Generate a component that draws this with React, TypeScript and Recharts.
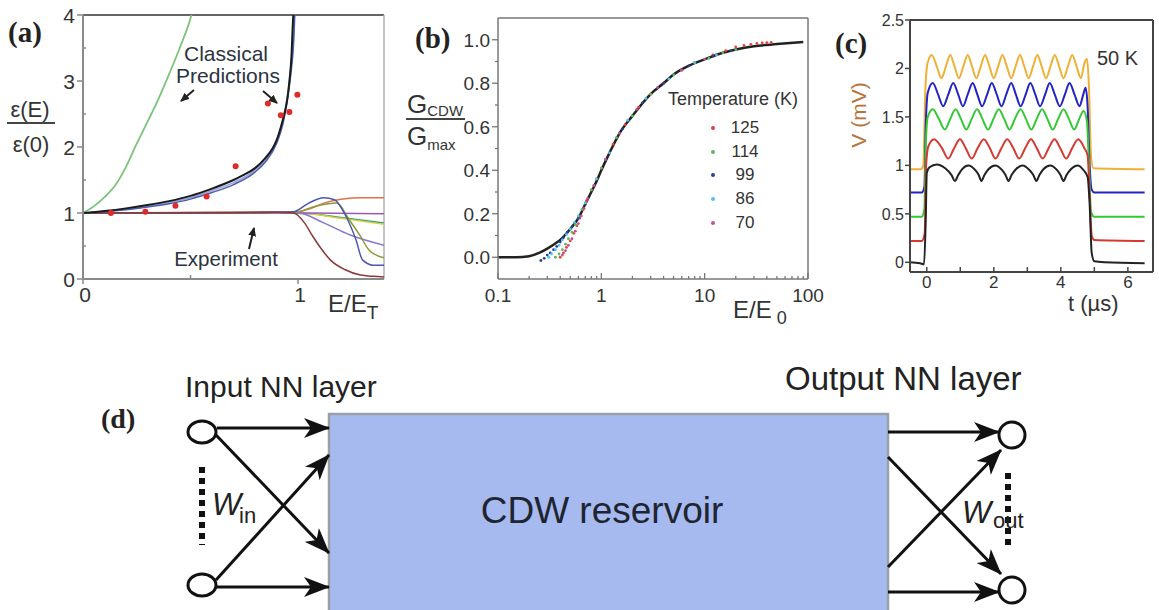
import React from 'react';
import { ComposedChart, Line, Scatter, XAxis, YAxis, ReferenceLine, Legend } from 'recharts';

const FONT = "'Liberation Sans', Arial, Helvetica, sans-serif";
const SERIF = "'Liberation Serif', 'Times New Roman', serif";
const INK = '#2a3340';

// ---------- (a) dielectric response vs E/E_T ----------
const aGreen = [[0, 1.0], [0.05, 1.1], [0.1, 1.24], [0.15, 1.42], [0.2, 1.7], [0.25, 2.05], [0.3, 2.38], [0.35, 2.72], [0.4, 3.1], [0.45, 3.5], [0.5, 3.95], [0.52, 4.2]];
const aClassicBlack = [[0, 1.0], [0.1, 1.03], [0.2, 1.07], [0.3, 1.12], [0.4, 1.18], [0.5, 1.26], [0.6, 1.37], [0.7, 1.5], [0.75, 1.58], [0.8, 1.68], [0.85, 1.84], [0.88, 1.97], [0.9, 2.1], [0.92, 2.3], [0.94, 2.55], [0.95, 2.72], [0.96, 3.0], [0.97, 3.4], [0.975, 3.8], [0.978, 4.0], [0.982, 4.4]];
const aClassicBlue = [[0, 1.0], [0.1, 1.02], [0.2, 1.05], [0.3, 1.09], [0.4, 1.14], [0.5, 1.21], [0.6, 1.31], [0.7, 1.43], [0.8, 1.62], [0.85, 1.78], [0.9, 2.05], [0.93, 2.35], [0.95, 2.7], [0.97, 3.2], [0.98, 3.6], [0.985, 4.0], [0.99, 4.4]];
const aClassicLav = [[0, 1.0], [0.1, 1.025], [0.2, 1.06], [0.3, 1.1], [0.4, 1.16], [0.5, 1.23], [0.6, 1.34], [0.7, 1.46], [0.8, 1.65], [0.85, 1.81], [0.9, 2.08], [0.93, 2.4], [0.95, 2.75], [0.97, 3.3], [0.98, 3.75], [0.983, 4.0], [0.988, 4.4]];
const aDotsE = [0.13, 0.29, 0.43, 0.575, 0.71, 0.86, 0.92, 0.96, 0.997];
const aDotsEps = [1.0, 1.02, 1.11, 1.25, 1.71, 2.66, 2.48, 2.53, 2.79];

const expBrown = [[0, 1.0], [0.5, 1.0], [0.9, 1.01], [0.98, 1.0], [1.03, 0.85], [1.07, 0.64], [1.11, 0.45], [1.15, 0.29], [1.22, 0.14], [1.29, 0.06], [1.35, 0.04], [1.4, 0.03]];
const expBlue = [[0, 1.0], [0.9, 1.01], [0.98, 1.02], [1.05, 1.15], [1.12, 1.23], [1.17, 1.2], [1.22, 0.97], [1.27, 0.59], [1.3, 0.29], [1.35, 0.21], [1.4, 0.21]];
const expOlive = [[0, 1.0], [0.98, 1.01], [1.08, 1.1], [1.18, 1.15], [1.24, 0.89], [1.29, 0.65], [1.33, 0.44], [1.4, 0.32]];
const expOrange = [[0, 1.0], [1.0, 1.02], [1.05, 1.06], [1.12, 1.15], [1.2, 1.21], [1.3, 1.23], [1.4, 1.23]];
const expPurple = [[0, 1.0], [1.0, 1.0], [1.4, 0.99]];
const expTeal = [[0, 1.0], [1.0, 1.0], [1.2, 0.93], [1.4, 0.85]];
const expYellow = [[0, 1.0], [1.0, 1.0], [1.2, 0.92], [1.4, 0.83]];
const expLav = [[0, 1.0], [1.0, 1.0], [1.12, 0.85], [1.24, 0.67], [1.4, 0.51]];

// ---------- (b) scaled conductance ----------
const bFit = [[0.1, 0.0], [0.15, 0.0], [0.2, 0.005], [0.25, 0.02], [0.3, 0.04], [0.35, 0.06], [0.4, 0.08], [0.5, 0.13], [0.6, 0.18], [0.7, 0.245], [0.8, 0.3], [0.9, 0.35], [1, 0.4], [1.2, 0.48], [1.5, 0.57], [2, 0.65], [3, 0.75], [4, 0.8], [5, 0.84], [7, 0.88], [10, 0.91], [15, 0.94], [20, 0.955], [30, 0.97], [50, 0.98], [90, 0.99]];
const b125 = [[0.4, 0.0], [0.43, 0.02], [0.46, 0.045], [0.5, 0.075], [0.54, 0.11], [0.58, 0.145], [0.62, 0.18], [0.67, 0.22], [0.72, 0.26], [0.8, 0.31], [0.9, 0.36], [1.0, 0.41], [1.3, 0.52], [1.7, 0.61], [2.3, 0.69], [3, 0.75], [4, 0.8], [6, 0.86], [8, 0.895], [12, 0.93], [16, 0.95], [20, 0.967], [24, 0.974], [28, 0.979], [32, 0.983], [36, 0.986], [40, 0.987], [44, 0.988]];
const b114 = [[0.36, 0.0], [0.39, 0.015], [0.42, 0.035], [0.45, 0.06], [0.48, 0.085], [0.52, 0.115], [0.56, 0.15], [0.6, 0.18], [0.65, 0.22], [0.7, 0.25], [0.8, 0.31], [1.0, 0.41], [1.4, 0.55], [2, 0.65], [3, 0.75], [5, 0.84], [8, 0.895], [11, 0.915], [15, 0.94], [20, 0.955]];
const b99 = [[0.26, -0.015], [0.28, -0.005], [0.3, 0.01], [0.32, 0.02], [0.345, 0.035], [0.37, 0.05], [0.4, 0.07], [0.43, 0.09], [0.47, 0.115], [0.52, 0.14], [0.6, 0.18], [0.7, 0.245], [0.85, 0.33], [1.1, 0.45], [1.6, 0.59], [2.5, 0.71], [4, 0.8], [7, 0.88], [12, 0.925], [18, 0.95]];
const b86 = [[0.31, 0.0], [0.33, 0.015], [0.36, 0.035], [0.39, 0.055], [0.42, 0.08], [0.46, 0.105], [0.5, 0.13], [0.55, 0.16], [0.6, 0.19], [0.7, 0.25], [0.9, 0.36], [1.2, 0.48], [1.8, 0.63], [2.7, 0.73], [4.5, 0.82], [8, 0.895], [13, 0.93]];
const b70 = [[0.42, 0.01], [0.45, 0.03], [0.48, 0.055], [0.52, 0.085], [0.56, 0.12], [0.6, 0.155], [0.64, 0.19], [0.68, 0.225], [0.74, 0.27], [0.85, 0.33], [1.1, 0.45], [1.5, 0.57], [2.2, 0.68], [3.5, 0.78], [6, 0.86], [10, 0.91]];
const tempNames = ['125', '114', '99', '86', '70'];
const tempColors = ['#e8413c', '#5cb85c', '#2a3f9e', '#4fc3f7', '#c0509a'];
const tempSeries = [b125, b114, b99, b86, b70];
const bXTicks = [0.1, 0.2, 0.3, 0.4, 0.5, 0.6, 0.7, 0.8, 0.9, 1, 2, 3, 4, 5, 6, 7, 8, 9, 10, 20, 30, 40, 50, 60, 70, 80, 90, 100];
const bXMajor = [0.1, 1, 10, 100];
const bYTicks = [0, 0.1, 0.2, 0.3, 0.4, 0.5, 0.6, 0.7, 0.8, 0.9, 1.0];

// ---------- (c) voltage oscillations at 50 K ----------
const cBlack = [[-0.5, 0.0], [-0.2, -0.01], [-0.08, -0.02], [-0.03, 0.45], [0.0, 0.92], [0.08, 0.98], [0.3, 1.01], [0.55, 0.97], [0.74, 0.9], [0.84, 0.84], [0.94, 0.9], [1.05, 0.96], [1.24, 1.0], [1.45, 0.95], [1.55, 0.9], [1.63, 0.84], [1.72, 0.9], [1.84, 0.96], [2.04, 1.0], [2.25, 0.95], [2.35, 0.9], [2.44, 0.84], [2.53, 0.9], [2.66, 0.96], [2.86, 1.0], [3.07, 0.95], [3.18, 0.9], [3.27, 0.84], [3.36, 0.9], [3.48, 0.96], [3.68, 1.0], [3.89, 0.95], [3.99, 0.9], [4.08, 0.84], [4.17, 0.9], [4.3, 0.96], [4.5, 1.0], [4.68, 0.95], [4.8, 0.88], [4.86, 0.6], [4.92, 0.1], [5.0, 0.01], [5.3, 0.0], [6.5, -0.01]];
const cRed = [[-0.5, 0.22], [-0.15, 0.22], [-0.06, 0.3], [-0.02, 1.0], [0.05, 1.2], [0.22, 1.27], [0.45, 1.18], [0.64, 1.07], [0.82, 1.18], [0.99, 1.27], [1.16, 1.18], [1.34, 1.07], [1.52, 1.18], [1.7, 1.27], [1.88, 1.18], [2.05, 1.07], [2.23, 1.18], [2.4, 1.27], [2.58, 1.18], [2.76, 1.07], [2.94, 1.18], [3.11, 1.27], [3.28, 1.18], [3.46, 1.07], [3.64, 1.18], [3.81, 1.27], [3.98, 1.18], [4.16, 1.07], [4.34, 1.18], [4.52, 1.27], [4.7, 1.18], [4.8, 1.1], [4.86, 0.7], [4.92, 0.28], [5.0, 0.23], [6.5, 0.22]];
const cGreen = [[-0.5, 0.47], [-0.15, 0.47], [-0.07, 0.55], [-0.03, 1.2], [0.03, 1.5], [0.18, 1.58], [0.36, 1.48], [0.54, 1.37], [0.7, 1.48], [0.86, 1.58], [1.02, 1.48], [1.18, 1.37], [1.34, 1.48], [1.5, 1.58], [1.66, 1.48], [1.83, 1.37], [1.99, 1.48], [2.15, 1.58], [2.31, 1.48], [2.47, 1.37], [2.63, 1.48], [2.8, 1.58], [2.96, 1.48], [3.12, 1.37], [3.28, 1.48], [3.44, 1.58], [3.6, 1.48], [3.76, 1.37], [3.92, 1.48], [4.08, 1.58], [4.24, 1.48], [4.4, 1.37], [4.55, 1.48], [4.68, 1.56], [4.78, 1.45], [4.84, 1.0], [4.9, 0.52], [5.0, 0.47], [6.5, 0.47]];
const cBlue = [[-0.5, 0.72], [-0.15, 0.72], [-0.07, 0.78], [-0.03, 1.4], [0.03, 1.75], [0.18, 1.85], [0.34, 1.73], [0.49, 1.61], [0.64, 1.73], [0.79, 1.85], [0.94, 1.73], [1.08, 1.61], [1.22, 1.73], [1.37, 1.85], [1.51, 1.73], [1.65, 1.61], [1.8, 1.73], [1.94, 1.85], [2.09, 1.73], [2.23, 1.61], [2.37, 1.73], [2.52, 1.85], [2.66, 1.73], [2.8, 1.61], [2.95, 1.73], [3.09, 1.85], [3.24, 1.73], [3.38, 1.61], [3.53, 1.73], [3.67, 1.85], [3.82, 1.73], [3.97, 1.61], [4.12, 1.73], [4.26, 1.85], [4.41, 1.73], [4.56, 1.61], [4.66, 1.72], [4.74, 1.8], [4.8, 1.6], [4.86, 1.0], [4.92, 0.75], [5.0, 0.72], [6.5, 0.72]];
const cOrange = [[-0.5, 0.96], [-0.18, 0.96], [-0.1, 1.0], [-0.05, 1.7], [0.02, 2.05], [0.15, 2.14], [0.3, 2.02], [0.44, 1.9], [0.57, 2.02], [0.7, 2.14], [0.83, 2.02], [0.96, 1.9], [1.09, 2.02], [1.22, 2.14], [1.35, 2.02], [1.48, 1.9], [1.61, 2.02], [1.74, 2.14], [1.87, 2.02], [2.0, 1.9], [2.13, 2.02], [2.26, 2.14], [2.39, 2.02], [2.52, 1.9], [2.65, 2.02], [2.78, 2.14], [2.91, 2.02], [3.04, 1.9], [3.17, 2.02], [3.3, 2.14], [3.43, 2.02], [3.56, 1.9], [3.69, 2.02], [3.82, 2.14], [3.95, 2.02], [4.08, 1.9], [4.21, 2.02], [4.34, 2.14], [4.47, 2.02], [4.6, 1.9], [4.7, 2.05], [4.78, 2.1], [4.84, 1.8], [4.9, 1.1], [4.97, 0.97], [6.5, 0.96]];
const cXTicks = [0, 1, 2, 3, 4, 5, 6];
const cYTicks = [0, 0.5, 1, 1.5, 2, 2.5];

const toXY = (pts: number[][]) => pts.map(([x, y]) => ({ x, y }));

// ---------- tick renderers ----------
function ATickX({ x, y, payload }: any) {
  const v = payload.value;
  const major = v === 0 || v === 1;
  return (
    <g>
      <line x1={x} x2={x} y1={y} y2={major ? y + 5 : y - 4} stroke="#888" strokeWidth={1.5} />
      {major && <text x={x + 2} y={y + 23} textAnchor="middle" fontSize={21} fontFamily={FONT} fill="#333">{v}</text>}
    </g>
  );
}

function ATickY({ x, y, payload }: any) {
  const v = payload.value;
  const major = Number.isInteger(v);
  return (
    <g>
      <line x1={x} x2={major ? x - 6 : x + 3} y1={y} y2={y} stroke="#888" strokeWidth={1.5} />
      {major && <text x={x - 8} y={y} dy="0.36em" textAnchor="end" fontSize={21} fontFamily={FONT} fill="#333">{v}</text>}
    </g>
  );
}

function BTickX({ x, y, payload }: any) {
  const v = payload.value;
  const major = bXMajor.includes(v);
  return (
    <g>
      <line x1={x} x2={x} y1={y} y2={y - (major ? 6 : 3)} stroke="#777" strokeWidth={1.3} />
      {major && <text x={x} y={y + 23} textAnchor="middle" fontSize={19} fontFamily={FONT} fill="#333">{v}</text>}
    </g>
  );
}

function BTickY({ x, y, payload }: any) {
  const v = payload.value;
  const major = Math.round(v * 10) % 2 === 0;
  return (
    <g>
      <line x1={x} x2={x - (major ? 6 : 3)} y1={y} y2={y} stroke="#777" strokeWidth={1.3} />
      {major && <text x={x - 8} y={y} dy="0.36em" textAnchor="end" fontSize={19} fontFamily={FONT} fill="#333">{v.toFixed(1)}</text>}
    </g>
  );
}

function CTickX({ x, y, payload }: any) {
  const v = payload.value;
  return (
    <g>
      <line x1={x} x2={x} y1={y} y2={y - 5} stroke="#444" strokeWidth={1.5} />
      {v % 2 === 0 && <text x={x} y={y + 16} textAnchor="middle" fontSize={17} fontFamily={FONT} fill="#333">{v}</text>}
    </g>
  );
}

function CTickTop({ x, y }: any) {
  return <line x1={x} x2={x} y1={y} y2={y + 5} stroke="#444" strokeWidth={1.5} />;
}

function CTickY({ x, y, payload }: any) {
  return (
    <g>
      <line x1={x} x2={x - 5} y1={y} y2={y} stroke="#444" strokeWidth={1.5} />
      <text x={x - 6} y={y} dy="0.36em" textAnchor="end" fontSize={16} fontFamily={FONT} fill="#333">{payload.value}</text>
    </g>
  );
}

function TempLegend({ payload }: any) {
  const items = (payload || [])
    .filter((p: any) => tempNames.includes(p.value))
    .sort((p: any, q: any) => tempNames.indexOf(p.value) - tempNames.indexOf(q.value));
  return (
    <div style={{ fontFamily: FONT, color: '#333' }}>
      <div style={{ fontSize: 18, lineHeight: '20px', whiteSpace: 'nowrap', marginBottom: 7 }}>Temperature (K)</div>
      {items.map((e: any) => (
        <div key={e.value} style={{ display: 'flex', alignItems: 'center', height: 23.7, fontSize: 17 }}>
          <span style={{ width: 4, height: 4, borderRadius: 2, background: e.color, marginLeft: 43 }} />
          <span style={{ width: 50, textAlign: 'center', marginLeft: 5 }}>{e.value}</span>
        </div>
      ))}
    </div>
  );
}

const expCurves = [
  { pts: expTeal, color: '#2a9d8f' },
  { pts: expYellow, color: '#d9cf3a' },
  { pts: expPurple, color: '#9b59b6' },
  { pts: expLav, color: '#8877cc' },
  { pts: expOrange, color: '#e0704a' },
  { pts: expOlive, color: '#8a9a3a' },
  { pts: expBlue, color: '#4a5aa8' },
  { pts: expBrown, color: '#8b3a3a' },
];

export default function App() {
  return (
    <div style={{ position: 'absolute', left: 0, top: 0, width: 1159, height: 610, background: '#fff', overflow: 'hidden', fontFamily: FONT }}>
      {/* (a) */}
      <div style={{ position: 'absolute', left: 0, top: 0 }}>
        <ComposedChart width={400} height={330} margin={{ top: 15, right: 16, bottom: 21, left: 43 }}>
          <XAxis dataKey="x" type="number" domain={[0, 1.4]} ticks={[0, 0.5, 1]} interval={0} allowDataOverflow
            height={30} tickSize={0} tickMargin={0} tickLine={false} tick={ATickX} axisLine={{ stroke: '#8a8a8a', strokeWidth: 2 }} />
          <YAxis type="number" domain={[0, 4]} ticks={[0, 0.5, 1, 1.5, 2, 2.5, 3, 3.5, 4]} interval={0} allowDataOverflow
            width={40} tickSize={0} tickMargin={0} tickLine={false} tick={ATickY} axisLine={{ stroke: '#8a8a8a', strokeWidth: 2 }} />
          <ReferenceLine y={4} stroke="#666" strokeWidth={2} />
          <ReferenceLine x={1.4} stroke="#b0b0b0" strokeWidth={1.5} />
          {expCurves.map((c, i) => (
            <Line key={i} data={toXY(c.pts)} dataKey="y" type="monotone" stroke={c.color} strokeWidth={1.5} dot={false} isAnimationActive={false} />
          ))}
          <Line data={toXY(aGreen)} dataKey="y" type="monotone" stroke="#7cc47a" strokeWidth={1.8} dot={false} isAnimationActive={false} />
          <Line data={toXY(aClassicLav)} dataKey="y" type="monotone" stroke="#9aa0d8" strokeWidth={1.5} dot={false} isAnimationActive={false} />
          <Line data={toXY(aClassicBlue)} dataKey="y" type="monotone" stroke="#4a5fb0" strokeWidth={1.5} dot={false} isAnimationActive={false} />
          <Line data={toXY(aClassicBlack)} dataKey="y" type="monotone" stroke="#1a1a1a" strokeWidth={2} dot={false} isAnimationActive={false} />
          <Scatter data={aDotsE.map((e, i) => ({ x: e, y: aDotsEps[i] }))} dataKey="y" isAnimationActive={false}
            shape={(p: any) => <circle cx={p.cx} cy={p.cy} r={3} fill="#e02a2a" />} />
        </ComposedChart>
      </div>

      {/* (b) */}
      <div style={{ position: 'absolute', left: 390, top: 0 }}>
        <ComposedChart width={445} height={330} margin={{ top: 18, right: 27, bottom: 21, left: 58 }}>
          <XAxis dataKey="x" type="number" scale="log" domain={[0.1, 100]} ticks={bXTicks} interval={0} allowDataOverflow
            height={30} tickSize={0} tickMargin={0} tickLine={false} tick={BTickX} axisLine={{ stroke: '#777', strokeWidth: 1.5 }} />
          <YAxis type="number" domain={[-0.1, 1.1]} ticks={bYTicks} interval={0} allowDataOverflow
            width={50} tickSize={0} tickMargin={0} tickLine={false} tick={BTickY} axisLine={{ stroke: '#777', strokeWidth: 1.5 }} />
          <ReferenceLine y={1.1} stroke="#777" strokeWidth={1.5} />
          <ReferenceLine x={100} stroke="#777" strokeWidth={1.5} />
          {tempSeries.map((s, i) => (
            <Scatter key={tempNames[i]} name={tempNames[i]} data={toXY(s)} dataKey="y" fill={tempColors[i]} isAnimationActive={false}
              shape={(p: any) => <circle cx={p.cx} cy={p.cy} r={1.4} fill={tempColors[i]} />} />
          ))}
          <Line data={toXY(bFit)} dataKey="y" type="monotone" stroke="#222" strokeWidth={2.5} dot={false} legendType="none" isAnimationActive={false} />
          <Legend layout="vertical" align="center" verticalAlign="middle" content={TempLegend}
            wrapperStyle={{ left: 278, top: 89, width: 150 }} />
        </ComposedChart>
      </div>

      {/* (c) */}
      <div style={{ position: 'absolute', left: 820, top: 0 }}>
        <ComposedChart width={339} height={330} margin={{ top: 20, right: 6, bottom: 28, left: 50 }}>
          <XAxis dataKey="x" type="number" domain={[-0.5, 6.75]} ticks={cXTicks} interval={0} allowDataOverflow
            height={30} tickSize={0} tickMargin={0} tickLine={false} tick={CTickX} axisLine={{ stroke: '#444', strokeWidth: 2 }} />
          <XAxis xAxisId="top" orientation="top" type="number" domain={[-0.5, 6.75]} ticks={cXTicks} interval={0}
            height={0} tickSize={0} tickMargin={0} tickLine={false} tick={CTickTop} axisLine={false} />
          <YAxis type="number" domain={[-0.1, 2.5]} ticks={cYTicks} interval={0} allowDataOverflow
            width={40} tickSize={0} tickMargin={0} tickLine={false} tick={CTickY} axisLine={{ stroke: '#444', strokeWidth: 2 }} />
          <ReferenceLine y={2.5} stroke="#444" strokeWidth={2} />
          <ReferenceLine x={6.75} stroke="#444" strokeWidth={2} />
          <Line data={toXY(cOrange)} dataKey="y" type="monotone" stroke="#efb036" strokeWidth={2} dot={false} isAnimationActive={false} />
          <Line data={toXY(cBlue)} dataKey="y" type="monotone" stroke="#2323c4" strokeWidth={2} dot={false} isAnimationActive={false} />
          <Line data={toXY(cGreen)} dataKey="y" type="monotone" stroke="#34c934" strokeWidth={2} dot={false} isAnimationActive={false} />
          <Line data={toXY(cRed)} dataKey="y" type="monotone" stroke="#d43a32" strokeWidth={2} dot={false} isAnimationActive={false} />
          <Line data={toXY(cBlack)} dataKey="y" type="monotone" stroke="#222" strokeWidth={2} dot={false} isAnimationActive={false} />
        </ComposedChart>
      </div>

      {/* labels + (d) diagram */}
      <svg width={1159} height={610} style={{ position: 'absolute', left: 0, top: 0, pointerEvents: 'none' }}>
        <defs>
          <marker id="sa" markerUnits="userSpaceOnUse" markerWidth={9} markerHeight={8} refX={8} refY={4} orient="auto">
            <path d="M0,0 L9,4 L0,8 Z" fill="#222" />
          </marker>
          <marker id="ah" markerUnits="userSpaceOnUse" markerWidth={26} markerHeight={20} refX={25} refY={10} orient="auto">
            <path d="M0,0 L26,10 L0,20 L7,10 Z" fill="#111" />
          </marker>
        </defs>

        {/* (a) */}
        <text x={8} y={42} fontFamily={SERIF} fontWeight="bold" fontSize={29} fill="#222">(a)</text>
        <text x={30} y={117} textAnchor="middle" fontSize={22} fill="#333">ε(E)</text>
        <line x1={7} x2={55} y1={123} y2={123} stroke="#444" strokeWidth={2} />
        <text x={31} y={152} textAnchor="middle" fontSize={22} fill="#333">ε(0)</text>
        <text x={226} y={61} textAnchor="middle" fontSize={21} fill={INK}>Classical</text>
        <text x={228} y={83} textAnchor="middle" fontSize={21} fill={INK}>Predictions</text>
        <line x1={194} y1={90} x2={181} y2={101} stroke="#222" strokeWidth={2} markerEnd="url(#sa)" />
        <line x1={263} y1={91} x2={277} y2={103} stroke="#222" strokeWidth={2} markerEnd="url(#sa)" />
        <text x={226} y={266} textAnchor="middle" fontSize={20.5} fill={INK}>Experiment</text>
        <line x1={249} y1={249} x2={254} y2={228} stroke="#222" strokeWidth={2} markerEnd="url(#sa)" />
        <text x={328} y={312} fontSize={24} fill="#333">E/E<tspan fontSize={19} dy={7}>T</tspan></text>

        {/* (b) */}
        <text x={415} y={48} fontFamily={SERIF} fontWeight="bold" fontSize={29} fill="#222">(b)</text>
        <text x={407} y={113} fontSize={26} fill="#333">G<tspan fontSize={15} dy={3}>CDW</tspan></text>
        <line x1={406} x2={465} y1={119} y2={119} stroke="#444" strokeWidth={2} />
        <text x={407} y={145} fontSize={26} fill="#333">G<tspan fontSize={15} dy={5}>max</tspan></text>
        <text x={733} y={318} fontSize={24} fill="#333">E/E<tspan fontSize={18} dy={6}> 0</tspan></text>

        {/* (c) */}
        <text x={835} y={53} fontFamily={SERIF} fontWeight="bold" fontSize={29} fill="#222">(c)</text>
        <text x={858} y={115} transform="rotate(-90 858 115)" textAnchor="middle" dominantBaseline="central" fontSize={21} fill="#b8733a">V (mV)</text>
        <text x={1097} y={65} fontSize={20} fill="#333">50 K</text>
        <text x={1068} y={311} fontSize={22} fill="#333">t (µs)</text>

        {/* (d) */}
        <text x={101} y={428} fontFamily={SERIF} fontWeight="bold" fontSize={28} fill="#222">(d)</text>
        <text x={185} y={397} fontSize={30} fill="#222">Input NN layer</text>
        <text x={785} y={390} fontSize={33} fill="#222">Output NN layer</text>
        <rect x={329} y={414} width={559} height={220} fill="#a6baf0" stroke="#9aa0a8" strokeWidth={2.5} />
        <text x={602} y={523} textAnchor="middle" fontSize={37} fill="#1e2430">CDW reservoir</text>

        <ellipse cx={202} cy={432} rx={14} ry={11} fill="#fff" stroke="#111" strokeWidth={3} />
        <ellipse cx={202} cy={585} rx={14} ry={11} fill="#fff" stroke="#111" strokeWidth={3} />
        <line x1={202} x2={202} y1={467} y2={545} stroke="#111" strokeWidth={6} strokeDasharray="6 5" />
        <line x1={217} y1={428} x2={329} y2={428} stroke="#111" strokeWidth={3} markerEnd="url(#ah)" />
        <line x1={216} y1={435} x2={329} y2={553} stroke="#111" strokeWidth={3} markerEnd="url(#ah)" />
        <line x1={216} y1={580} x2={329} y2={455} stroke="#111" strokeWidth={3} markerEnd="url(#ah)" />
        <line x1={217} y1={587} x2={329} y2={587} stroke="#111" strokeWidth={3} markerEnd="url(#ah)" />
        <text x={212} y={515} fontSize={31} fontStyle="italic" fill="#222">W</text>
        <text x={239} y={523} fontSize={22} fill="#222">in</text>

        <circle cx={1012} cy={435} r={13} fill="#fff" stroke="#111" strokeWidth={3} />
        <circle cx={1012} cy={590} r={13} fill="#fff" stroke="#111" strokeWidth={3} />
        <line x1={1008} x2={1008} y1={473} y2={547} stroke="#111" strokeWidth={6} strokeDasharray="6 5" />
        <line x1={888} y1={432} x2={999} y2={432} stroke="#111" strokeWidth={3} markerEnd="url(#ah)" />
        <line x1={888} y1={457} x2={1001} y2={574} stroke="#111" strokeWidth={3} markerEnd="url(#ah)" />
        <line x1={888} y1={567} x2={1001} y2={450} stroke="#111" strokeWidth={3} markerEnd="url(#ah)" />
        <line x1={888} y1={592} x2={999} y2={592} stroke="#111" strokeWidth={3} markerEnd="url(#ah)" />
        <text x={962} y={523} fontSize={31} fontStyle="italic" fill="#222">W</text>
        <text x={993} y={528} fontSize={22} fill="#222">out</text>
      </svg>
    </div>
  );
}
